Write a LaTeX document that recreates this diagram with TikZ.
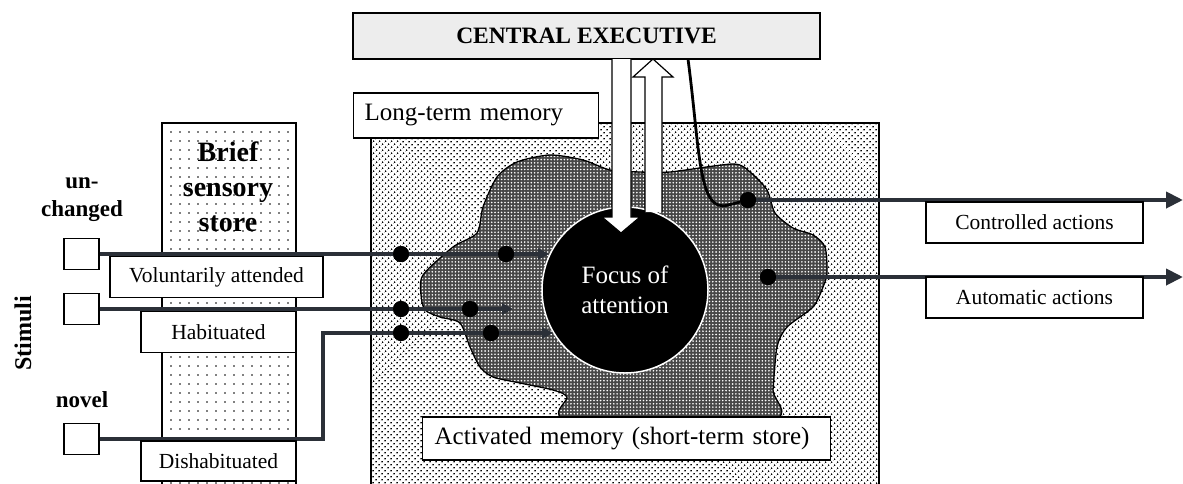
\documentclass[tikz,border=0pt]{standalone}
\usepackage{fontspec}
\setmainfont{Liberation Serif}
\usetikzlibrary{arrows.meta,patterns.meta}
\definecolor{linecol}{HTML}{2B3038}
\definecolor{cegray}{HTML}{EDEDED}
\tikzset{
  lbox/.style={draw=black, line width=1.3pt, fill=white, inner sep=0pt, align=center,
    font=\fontsize{21.5}{26}\selectfont},
  bigbox/.style={lbox, font=\fontsize{25}{29}\selectfont},
  stimbox/.style={draw=black, line width=1.3pt, fill=white, inner sep=0pt, minimum width=35pt, minimum height=31pt},
  blackdot/.style={circle, fill=black, inner sep=0pt, minimum size=16pt},
  feed/.style={draw=linecol, line width=4pt},
  hollow/.style={draw=black, line width=1.2pt, fill=white, line join=miter},
  boldlbl/.style={font=\bfseries\fontsize{23}{28}\selectfont, align=center, inner sep=0pt},
}
\begin{document}
\begin{tikzpicture}[x=1pt, y=-1pt]
\useasboundingbox (0,0) rectangle (1183,483);
% Long-term memory region
\fill[white] (371,123) rectangle (879,490);
\fill[pattern={Dots[distance=4pt,radius=1pt,angle=45]}, pattern color=black] (371,123) rectangle (879,490);
\draw[line width=1.5pt] (371,490) -- (371,123) -- (879,123) -- (879,490);
% Brief sensory store
\fill[white] (162,123) rectangle (296,490);
\fill[pattern={Dots[distance=9pt,radius=0.9pt]}, pattern color=black] (162,123) rectangle (296,490);
\draw[line width=1.5pt] (162,490) -- (162,123) -- (296,123) -- (296,490);
\node[font=\bfseries\fontsize{28}{35}\selectfont, align=center, inner sep=0pt] (bss) at (228,187) {Brief\\sensory\\store};
% Activated memory blob
\def\blobpath{plot[smooth cycle, tension=0.45] coordinates {(423,275) (453,247) (477,233) (483,207) (497,177) (517,162) (550,155) (583,160) (610,170) (640,172) (670,172) (733,164) (750,172) (767,190) (775,213) (793,228) (813,235) (825,247) (827,273) (823,287) (813,307) (787,327) (777,347) (773,390) (770,420) (570,420) (567,397) (553,390) (520,383) (493,377) (480,367) (470,347) (460,323) (440,317) (425,310) (421,295)}}
\fill[black!72] \blobpath;
\fill[pattern={Dots[distance=3.3pt,radius=0.9pt]}, pattern color=white] \blobpath;
\draw[line width=1.3pt] \blobpath;
% Focus of attention
\node[circle, fill=black, draw=white, line width=1.5pt, minimum size=166pt, inner sep=0pt,
  text=white, align=center, font=\fontsize{25}{30}\selectfont] (focus) at (625,290) {Focus of\\attention};
% Central executive
\node[lbox, fill=cegray, minimum width=467pt, minimum height=46pt, font=\bfseries\fontsize{23.5}{28}\selectfont] (ce) at (586.5,36) {CENTRAL EXECUTIVE};
% hollow arrows
\draw[hollow] (612,59) -- (612,217) -- (602,217) -- (621,233) -- (640,217) -- (631,217) -- (631,59);
\draw[hollow] (645,212) -- (645,77) -- (633,77) -- (653,59) -- (673,77) -- (662,77) -- (662,212);
% Long-term memory label
\node[bigbox, minimum width=245pt, minimum height=45pt, anchor=west, text width=225pt, align=left] (ltm) at (353,115.5) {\hspace*{1pt}Long-term memory};
% Stimuli labels
\node[font=\bfseries\fontsize{24}{28}\selectfont, rotate=90, inner sep=0pt] (stim) at (23,333) {Stimuli};
\node[boldlbl] (unch) at (82,200) {un-\\changed};
\node[boldlbl] (novel) at (82,400) {novel};
% stimulus squares
\node[stimbox] (sq1) at (81.5,254) {};
\node[stimbox] (sq2) at (81.5,309) {};
\node[stimbox] (sq3) at (81.5,439) {};
% dots
\node[blackdot] (d1a) at (401,254) {};
\node[blackdot] (d2a) at (401,309) {};
\node[blackdot] (d3a) at (401,333) {};
\node[blackdot] (d1b) at (506,254) {};
\node[blackdot] (d2b) at (470,309) {};
\node[blackdot] (d3b) at (491,333) {};
\node[blackdot] (dc) at (748,200) {};
\node[blackdot] (da) at (768,277) {};
\coordinate (e1) at (549,254);
\coordinate (e2) at (513,309);
\coordinate (e3) at (553,333);
\coordinate (k3) at (323,439);
\coordinate (ceo) at (688,59);
\coordinate (oc) at (1183,200);
\coordinate (oa) at (1183,277);
% feed lines
\draw[feed] (sq1.east) -- (d1a);
\draw[feed] (sq2.east) -- (d2a);
\draw[feed, line join=miter] (sq3.east) -- (k3) |- (d3a);
\draw[feed, -{Triangle[length=11pt,width=11pt]}] (d1a) -- (d1b) -- (e1);
\draw[feed, -{Triangle[length=11pt,width=11pt]}] (d2a) -- (d2b) -- (e2);
\draw[feed, -{Triangle[length=11pt,width=11pt]}] (d3a) -- (d3b) -- (e3);
% control curve
\draw[line width=2.8pt, black] (ceo) .. controls (700,150) and (698,214) .. (728,205) -- (dc);
% action arrows
\draw[feed, -{Triangle[length=17pt,width=16pt]}] (dc) -- (oc);
\draw[feed, -{Triangle[length=17pt,width=16pt]}] (da) -- (oa);
% redraw dots on top
\node[blackdot] at (d1a) {};
\node[blackdot] at (d2a) {};
\node[blackdot] at (d3a) {};
\node[blackdot] at (d1b) {};
\node[blackdot] at (d2b) {};
\node[blackdot] at (d3b) {};
\node[blackdot] at (dc) {};
\node[blackdot] at (da) {};
% label boxes
\node[lbox, minimum width=213pt, minimum height=41pt] (va) at (216.5,277) {Voluntarily attended};
\node[lbox, minimum width=155pt, minimum height=41pt] (hab) at (218.5,332) {Habituated};
\node[lbox, minimum width=155pt, minimum height=40pt] (dis) at (218.5,461) {Dishabituated};
\node[bigbox, minimum width=408pt, minimum height=43pt, anchor=west, text width=390pt, align=left] (act) at (422,438.5) {\hspace*{3pt}Activated memory (short-term store)};
\node[lbox, minimum width=217pt, minimum height=41pt] (ctrl) at (1034.5,222.5) {Controlled actions};
\node[lbox, minimum width=217pt, minimum height=41pt] (auto) at (1034.5,297.5) {Automatic actions};
\end{tikzpicture}
\end{document}
